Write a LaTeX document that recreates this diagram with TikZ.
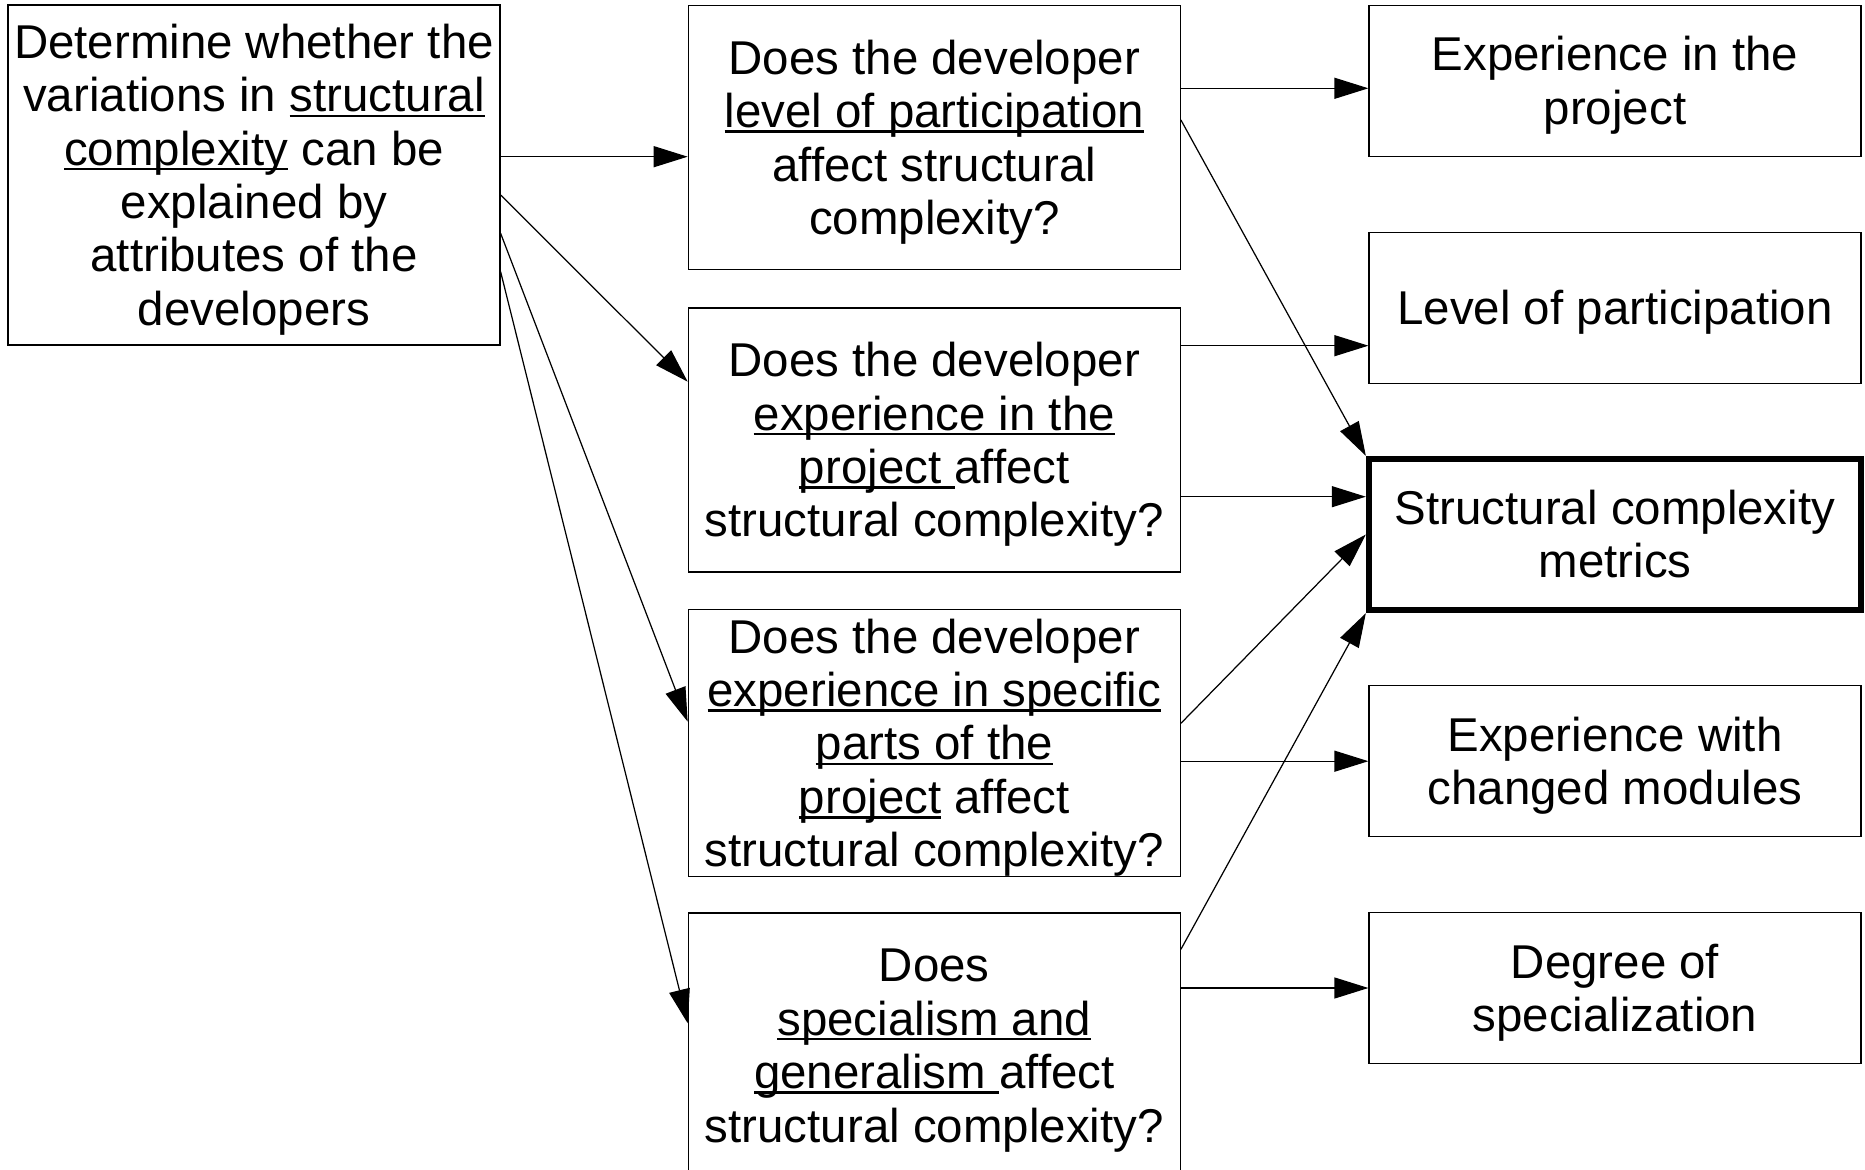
\documentclass[tikz,border=0pt]{standalone}
\usepackage{fontspec}
\setmainfont{Liberation Sans}
\usetikzlibrary{calc, arrows.meta}

% underline that sits close to the baseline
\newcommand{\uln}[1]{\setbox0=\hbox{#1}\rlap{\rule[-1.5pt]{\wd0}{0.7pt}}\box0\relax}
% strut for the first line, so the text sits a little lower
\newcommand{\fl}{\rule{0pt}{12.4pt}}

\begin{document}
\begin{tikzpicture}[
  box/.style={draw, line width=0.35pt, align=center, inner sep=0pt,
    minimum width=4.92cm, font=\fontsize{13.5}{15.2}\selectfont},
  goal/.style={box, minimum height=3.40cm},
  question/.style={box, minimum height=2.64cm},
  attr/.style={box, minimum height=1.51cm},
  arr/.style={-{Triangle[length=3.4mm, width=2.1mm]}, line width=0.35pt}]

\useasboundingbox (0,0) rectangle (18.65,-11.70);

% goal on the left
\node[goal] (goal) at (2.54,-1.75)
  {\fl Determine whether the\\ variations in \uln{structural}\\ \uln{complexity} can be\\
   explained by\\ attributes of the\\ developers};

% research questions in the middle column
\def\qx{9.343}
\node[question] (q1) at (\qx,-1.375)
  {\fl Does the developer\\ \uln{level of participation}\\ affect structural\\ complexity?};
\node[question] (q2) at (\qx,-4.40)
  {\fl Does the developer\\ \uln{experience in the}\\ \uln{project }affect\\ structural complexity?};
\node[question] (q3) at (\qx,-7.43)
  {\fl Does the developer\\ \uln{experience in specific}\\ \uln{parts of the}\\ \uln{project} affect\\ structural complexity?};
\node[question] (q4) at (\qx,-10.45)
  {\fl Does\\ \uln{specialism and}\\ \uln{generalism }affect\\ structural complexity?};

% attributes and metrics on the right
\def\rx{16.15}
\node[attr] (expproj) at (\rx,-0.8075) {\fl Experience in the\\ project};
\node[attr] (level) at (\rx,-3.08) {\fl Level of participation};
\node[attr, line width=1.8pt] (metrics) at (\rx,-5.345)
  {\fl Structural complexity\\ metrics\rule[-2.86pt]{0pt}{0pt}};
\node[attr] (expmod) at (\rx,-7.612) {\fl Experience with\\ changed modules};
\node[attr] (degree) at (\rx,-9.88) {\fl Degree of\\ specialization};

% goal -> questions
\draw[arr] ([yshift=1.83mm]goal.east) -- ([yshift=1.83mm]goal.east -| q1.west);
\draw[arr] ([yshift=-2.0mm]goal.east) -- ([yshift=5.83mm]q2.west);
\draw[arr] ([yshift=-5.83mm]goal.east) -- ([yshift=2.13mm]q3.west);
\draw[arr] ([yshift=-9.67mm]goal.east) -- ([yshift=2.17mm]q4.west);

% questions -> attributes
\draw[arr] ([yshift=4.92mm]q1.east) -- ([yshift=4.92mm]q1.east -| expproj.west);
\draw[arr] ([yshift=9.43mm]q2.east) -- ([yshift=9.43mm]q2.east -| level.west);
\draw[arr] (q3.east |- expmod.west) -- (expmod.west);
\draw[arr] (q4.east |- degree.west) -- (degree.west);

% questions -> metrics
\draw[arr] ([yshift=1.75mm]q1.east) -- (metrics.north west);
\draw[arr] ([yshift=-5.67mm]q2.east) -- ([yshift=-5.67mm]q2.east -| metrics.west);
\draw[arr] ([yshift=1.97mm]q3.east) -- (metrics.west);
\draw[arr] ([yshift=9.57mm]q4.east) -- (metrics.south west);

\end{tikzpicture}
\end{document}
